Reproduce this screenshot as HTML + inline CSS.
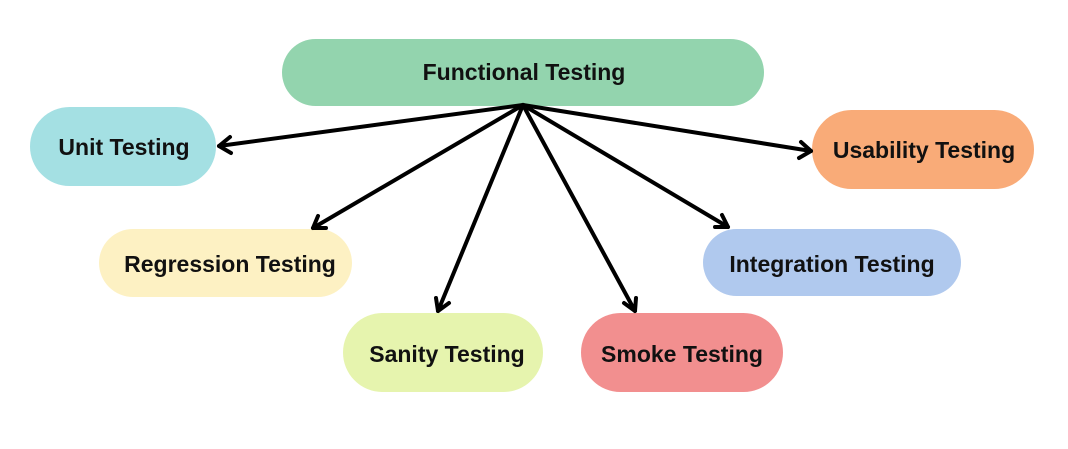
<!DOCTYPE html>
<html><head><meta charset="utf-8"><style>
body{margin:0;width:1068px;height:444px;background:#fff;overflow:hidden}
</style></head><body>
<svg width="1068" height="444" xmlns="http://www.w3.org/2000/svg" font-family="Liberation Sans, sans-serif" font-weight="bold" font-size="23">
<rect x="282" y="39" width="482" height="67" rx="33.5" fill="#93d4ae"/>
<rect x="30" y="107" width="186" height="79" rx="39.5" fill="#a4e0e3"/>
<rect x="812" y="110" width="222" height="79" rx="39.5" fill="#f9ab78"/>
<rect x="99" y="229" width="253" height="68" rx="34" fill="#fdf1c3"/>
<rect x="703" y="229" width="258" height="67" rx="33.5" fill="#b0c9ee"/>
<rect x="343" y="313" width="200" height="79" rx="39.5" fill="#e6f4ae"/>
<rect x="581" y="313" width="202" height="79" rx="39.5" fill="#f28f8f"/>
<g fill="#111" text-anchor="middle" dominant-baseline="central">
<text x="524" y="72">Functional Testing</text>
<text x="124" y="147">Unit Testing</text>
<text x="924" y="150">Usability Testing</text>
<text x="230" y="264">Regression Testing</text>
<text x="832" y="264">Integration Testing</text>
<text x="447" y="354">Sanity Testing</text>
<text x="682" y="354">Smoke Testing</text>
</g>
<g stroke="#000" stroke-width="4" fill="none" stroke-linecap="round" stroke-linejoin="round">
<line x1="523" y1="105" x2="219" y2="146"/><polyline points="230,137 219,146 231,153"/>
<line x1="523" y1="105" x2="313" y2="228"/><polyline points="318,216 313,228 326,228"/>
<line x1="523" y1="105" x2="438" y2="311"/><polyline points="436,298 438,311 449,303"/>
<line x1="523" y1="105" x2="635" y2="311"/><polyline points="624,303 635,311 636,298"/>
<line x1="523" y1="105" x2="728" y2="227"/><polyline points="715,227 728,227 722,215"/>
<line x1="523" y1="105" x2="811" y2="151"/><polyline points="799,158 811,151 801,142"/>
</g>
</svg>
</body></html>
